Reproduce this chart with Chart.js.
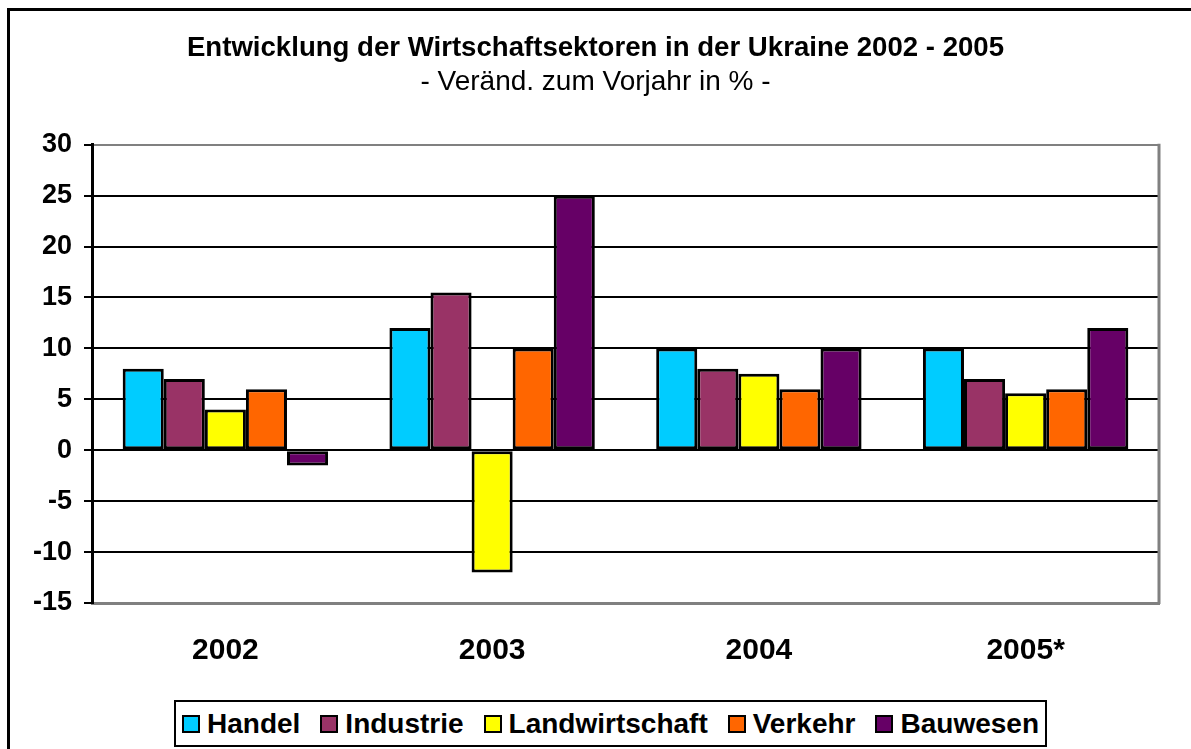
<!DOCTYPE html>
<html>
<head>
<meta charset="utf-8">
<script src="https://cdn.jsdelivr.net/npm/chart.js@4"></script>
<style>
  html, body { margin: 0; padding: 0; background: #fff; overflow: hidden; }
  body { width: 1191px; height: 749px; position: relative; }
  #frame { position: absolute; left: 7px; top: 8px; width: 1300px; height: 900px; border: 3px solid #000; }
  #wrap { position: absolute; left: 0; top: 0; width: 1191px; height: 749px; }
  #legend {
    position: absolute; left: 174px; top: 700px; width: 869px; height: 43px;
    border: 2px solid #000; background: #fff;
    display: flex; align-items: center; justify-content: center; gap: 20px;
    font: bold 28px "Liberation Sans", Arial, sans-serif; color: #000;
  }
  #legend .item { display: flex; align-items: center; }
  #legend .box { width: 14px; height: 14px; border: 2px solid #000; margin-right: 7px; }
</style>
</head>
<body>
<div id="frame"></div>
<div id="wrap"><canvas id="sectorChart" width="1191" height="749"></canvas></div>
<div id="legend"></div>
<script>
// ---------- data ----------
const years = ['2002', '2003', '2004', '2005*'];
const sectors = ['Handel', 'Industrie', 'Landwirtschaft', 'Verkehr', 'Bauwesen'];
const handel = [8, 12, 10, 10];
const industrie = [7, 15.5, 8, 7];
const landwirtschaft = [4, -12, 7.5, 5.6];
const verkehr = [6, 10, 6, 6];
const bauwesen = [-1.5, 25, 10, 12];
const sectorColors = ['#00CCFF', '#993366', '#FFFF00', '#FF6600', '#660066'];
const yTicks = { min: -15, max: 30, step: 5 };

const seriesValues = [handel, industrie, landwirtschaft, verkehr, bauwesen];
const FONT = '"Liberation Sans", Arial, sans-serif';

// gray right edge of the plot area
const plotFrame = {
  id: 'plotFrame',
  afterDraw(chart) {
    const { ctx, chartArea: a } = chart;
    ctx.save();
    ctx.strokeStyle = '#808080';
    ctx.lineWidth = 3;
    ctx.beginPath();
    ctx.moveTo(a.right, a.top - 1);
    ctx.lineTo(a.right, a.bottom + 1);
    ctx.stroke();
    ctx.restore();
  }
};

const ctx = document.getElementById('sectorChart').getContext('2d');
new Chart(ctx, {
  type: 'bar',
  data: {
    labels: years,
    datasets: sectors.map((name, i) => ({
      label: name,
      data: seriesValues[i],
      backgroundColor: sectorColors[i],
      borderColor: '#000',
      borderWidth: 3,
      borderSkipped: false,
      categoryPercentage: 0.77,
      barPercentage: 1.0
    }))
  },
  options: {
    responsive: false,
    animation: false,
    layout: { padding: { left: 32, right: 32, top: 10, bottom: 82 } },
    plugins: {
      legend: { display: false },
      tooltip: { enabled: false },
      title: {
        display: true,
        text: 'Entwicklung der Wirtschaftsektoren in der Ukraine 2002 - 2005',
        color: '#000',
        font: { family: FONT, size: 27.6, weight: 'bold' },
        padding: { top: 22, bottom: 0 }
      },
      subtitle: {
        display: true,
        text: '- Veränd. zum Vorjahr in % -',
        color: '#000',
        font: { family: FONT, size: 28, weight: 'normal' },
        padding: { top: 0, bottom: 46 }
      }
    },
    scales: {
      x: {
        grid: { drawOnChartArea: false, drawTicks: false },
        border: { color: '#808080', width: 3 },
        ticks: { color: '#000', padding: 30, font: { family: FONT, size: 30, weight: 'bold' } },
        afterFit(axis) { axis.height = 64; }
      },
      y: {
        min: yTicks.min,
        max: yTicks.max,
        grid: {
          color: c => (c.tick && (c.tick.value === yTicks.max || c.tick.value === yTicks.min)) ? '#808080' : '#000',
          tickColor: '#000',
          lineWidth: 2,
          tickLength: 8
        },
        border: { color: '#000', width: 3 },
        ticks: {
          stepSize: yTicks.step,
          color: '#000',
          padding: 12,
          font: { family: FONT, size: 27, weight: 'bold' }
        },
        afterFit(axis) { axis.width = 60; }
      }
    }
  },
  plugins: [plotFrame]
});

// legend built from the same arrays
const legendEl = document.getElementById('legend');
legendEl.innerHTML = sectors.map((name, i) =>
  `<span class="item"><span class="box" style="background:${sectorColors[i]}"></span>${name}</span>`
).join('');
</script>
</body>
</html>
